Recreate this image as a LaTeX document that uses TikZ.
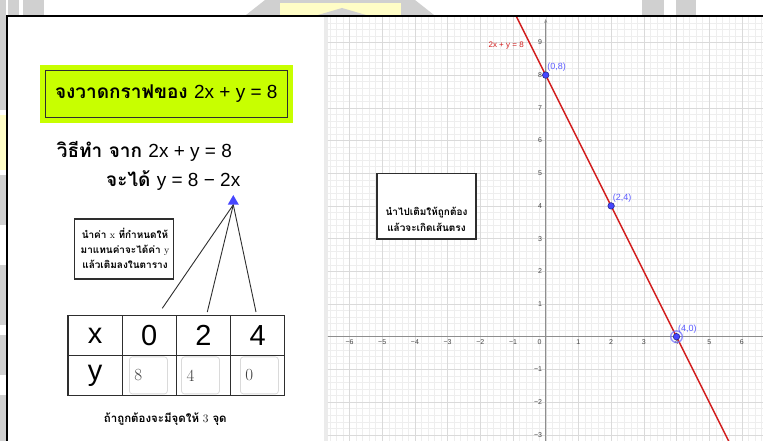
\documentclass[tikz,border=0pt]{standalone}
\usepackage{fontspec}
\usepackage{tikz}
\usetikzlibrary{
  arrows.meta,
  shapes.geometric,
  positioning,
  calc
}
\newfontfamily\thaifont[Script=Thai]{Loma}
\newfontfamily\gsans{Liberation Sans}
\definecolor{grLime}{HTML}{C8FF00}
\definecolor{grRed}{HTML}{D21E1E}
\definecolor{grBlue}{HTML}{4646FF}
\definecolor{grPtText}{HTML}{5C5CFF}
\definecolor{grAxis}{HTML}{8E8E8E}
\definecolor{grMajor}{HTML}{DADADA}
\definecolor{grMinor}{HTML}{EEEEEE}
\definecolor{grInk}{HTML}{2E2E2E}
\definecolor{grTick}{HTML}{444444}
\definecolor{grWater}{HTML}{D0D0D0}
\definecolor{grWaterY}{HTML}{FFFDC6}
\definecolor{grGutter}{HTML}{EBEBEB}
\definecolor{grInput}{HTML}{DADADA}
\definecolor{grDigit}{HTML}{404040}
\tikzset{
  thbig/.style={font=\thaifont\bfseries\fontsize{19}{22}\selectfont, inner sep=0pt},
  titlebox/.style={thbig, fill=grLime, minimum width=252.7pt, minimum height=58pt},
  notebox/.style={draw=grInk, line width=1.2pt, fill=white},
  notetext/.style={font=\thaifont\bfseries\fontsize{10}{15}\selectfont, align=center, inner sep=0pt},
  hinttext/.style={font=\thaifont\bfseries\fontsize{10}{16}\selectfont, align=center, inner sep=0pt},
  captext/.style={font=\thaifont\bfseries\fontsize{11.5}{14}\selectfont, inner sep=0pt},
  tiptri/.style={regular polygon, regular polygon sides=3, fill=grBlue, minimum size=12.7pt, inner sep=0pt},
  gconn/.style={grInk, line width=0.9pt},
  gcell/.style={draw=grInk, line width=1.3pt, minimum width=54.2pt, minimum height=39.8pt,
    inner sep=0pt, outer sep=0pt, font=\gsans\fontsize{29}{30}\selectfont},
  ginput/.style={draw=grInput, line width=0.8pt, rounded corners=3pt, text width=28pt, align=left,
    inner sep=5pt, minimum height=37pt, text=grDigit, font=\fontsize{17}{17}\selectfont},
  gaxis/.style={grAxis, line width=1.3pt},
  gtick/.style={text=grTick, font=\gsans\fontsize{7}{8}\selectfont, inner sep=0pt},
  gline/.style={grRed, line width=1.5pt},
  gpoint/.style={circle, fill=grBlue, draw=grBlue!55!black, line width=0.6pt, minimum size=6.5pt, inner sep=0pt},
  gptlabel/.style={text=grPtText, font=\gsans\fontsize{9}{10}\selectfont, anchor=south west, inner sep=0pt},
  geqlabel/.style={text=grRed, font=\gsans\fontsize{8}{9}\selectfont, inner sep=0pt}
}

\begin{document}
\begin{tikzpicture}[x=1pt, y=1pt]
  \useasboundingbox (0,0) rectangle (763,441);
  \fill[grWater] (8,426) rectangle (19,441);
  \fill[grWater] (23,426) rectangle (44,441);
  \fill[grWater] (246,426) -- (434,426) -- (415,441) -- (265,441) -- cycle;
  \fill[grWaterY] (280,426) rectangle (401,438);
  \fill[grWater] (318,426) -- (342,433) -- (366,426) -- cycle;
  \fill[grWater] (642,426) rectangle (664,441);
  \fill[grWater] (676,426) rectangle (696,441);
  \fill[grWater] (0,331) rectangle (6,441);
  \fill[grWaterY] (0,271) rectangle (6,326);
  \fill[grWater] (0,216) rectangle (6,266);
  \fill[grWater] (0,116) rectangle (6,176);
  \fill[grWater] (0,66) rectangle (6,106);
  \fill[grWater] (0,0) rectangle (6,46);
  \fill[white] (7,0) rectangle (763,425);
  \fill[grGutter] (324,0) rectangle (328,424);

  \begin{scope}[shift={(545.7pt,104.3pt)}, x=32.7pt, y=32.7pt]
    \clip (-6.66,-3.19) rectangle (6.65,9.77);
    \draw[grMinor, step=0.2] (-7,-4) grid (7,10);
    \draw[grMajor, step=1] (-7,-4) grid (7,10);
    \draw[gaxis] (-7,0) -- (7,0);
    \draw[gaxis, -{Stealth[length=4pt, width=3pt]}] (0,-4) -- (0,9.72);
    \foreach \i in {1,...,6}{
      \node[gtick, anchor=north] at ([yshift=-3pt]\i,0) {\i};
      \node[gtick, anchor=north] at ([yshift=-3pt]-\i,0) {−\i};
    }
    \foreach \j in {1,...,9}
      \node[gtick, anchor=east] at ([xshift=-3.5pt]0,\j) {\j};
    \foreach \j in {1,2,3}
      \node[gtick, anchor=east] at ([xshift=-3.5pt]0,-\j) {−\j};
    \node[gtick, anchor=north east] at ([shift={(-4pt,-3pt)}]0,0) {0};
    \node[notebox, minimum width=99pt, minimum height=65.7pt] (hint) at (-3.645,3.995) {};
    \node[hinttext] (hintlines) at ([yshift=-13pt]hint.center) {นำไปเติมให้ถูกต้อง\\แล้วจะเกิดเส้นตรง};
    \coordinate (a08) at (0,8);
    \coordinate (a40) at (4,0);
    \draw[gline] ($(a08)!-0.25!(a40)$) -- ($(a08)!1.45!(a40)$);
    \node[geqlabel] (eqlab) at (-1.21,8.89) {2x + y = 8};
    \foreach \px/\py/\nm in {0/8/p08, 2/4/p24, 4/0/p40}
      \node[gpoint] (\nm) at (\px,\py) {};
    \draw[grBlue!75, line width=1.4pt, opacity=0.75] (p40) circle (5.8pt);
    \foreach \nm/\t in {p08/{(0,8)}, p24/{(2,4)}, p40/{(4,0)}}
      \node[gptlabel] (\nm-l) at ([shift={(1.5pt,3.5pt)}]\nm.center) {\t};
  \end{scope}

  \draw[black, line width=2pt] (7,0) -- (7,425) -- (763,425);

  \node[titlebox] (title) at (166.3,347) {จงวาดกราฟของ {\gsans\mdseries 2x + y = 8}};
  \draw[grInk, line width=1pt] ([shift={(5.7pt,5.7pt)}]title.south west) rectangle ([shift={(-5.7pt,-5.7pt)}]title.north east);
  \node[thbig, anchor=west] (step1) at (56.7,290) {วิธีทำ จาก {\gsans\mdseries 2x + y = 8}};
  \node[thbig, anchor=west] (step2) at (106,260) {จะได้ {\gsans\mdseries y = 8 − 2x}};
  \node[tiptri] (tip) at (233.3,239.6) {};
  \node[notebox, minimum width=99pt, minimum height=60pt] (note) at (124.2,192) {};
  \node[notetext] (notelines) at (125,193) {นำค่า {\rmfamily\mdseries x} ที่กำหนดให้\\มาแทนค่าจะได้ค่า {\rmfamily\mdseries y}\\แล้วเติมลงในตาราง};
  \coordinate (e1) at (162.3,132.7);
  \coordinate (e2) at (207.3,129);
  \coordinate (e3) at (256,129);
  \foreach \e in {e1,e2,e3}
    \draw[gconn] (tip.south) -- (\e);

  \node[gcell] (tx) at (95.1,105.4) {x};
  \node[gcell, right=0pt of tx] (t0) {0};
  \node[gcell, right=0pt of t0] (t2) {2};
  \node[gcell, right=0pt of t2] (t4) {4};
  \node[gcell, below=0pt of tx] (ty) {y};
  \node[gcell, below=0pt of t0] (y0) {};
  \node[gcell, below=0pt of t2] (y2) {};
  \node[gcell, below=0pt of t4] (y4) {};
  \foreach \c/\v/\dx in {y0/8/-0.9, y2/4/-3, y4/0/1.7}
    \node[ginput] (in\c) at ([xshift=\dx pt]\c.center) {\v};

  \node[captext] (caption) at (165.3,22) {ถ้าถูกต้องจะมีจุดให้ {\rmfamily\mdseries 3} จุด};
\end{tikzpicture}
\end{document}
